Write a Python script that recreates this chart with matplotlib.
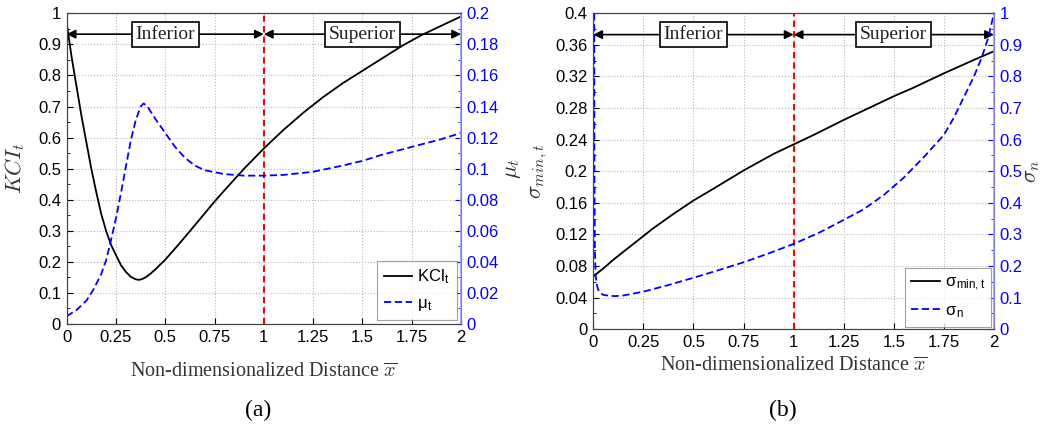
import matplotlib
matplotlib.use('Agg')
import matplotlib.pyplot as plt
from matplotlib.ticker import MultipleLocator, AutoMinorLocator

plt.rcParams['font.family'] = ['Liberation Sans', 'DejaVu Sans']
plt.rcParams['mathtext.fontset'] = 'cm'

# ---- data, panel (a)
x_kci = [0, 0.025, 0.05, 0.075, 0.1, 0.125, 0.15, 0.175, 0.2, 0.225, 0.25, 0.275,
         0.3, 0.325, 0.35, 0.365, 0.38, 0.4, 0.425, 0.45, 0.5, 0.55, 0.6, 0.65, 0.7,
         0.75, 0.8, 0.9, 1.0, 1.1, 1.2, 1.3, 1.4, 1.5, 1.6, 1.7, 1.8, 1.9, 2.0]
kci_t = [0.97, 0.86, 0.765, 0.67, 0.585, 0.5, 0.425, 0.355, 0.30, 0.255, 0.222, 0.19,
         0.168, 0.152, 0.144, 0.142, 0.144, 0.15, 0.162, 0.176, 0.207, 0.243, 0.28, 0.318, 0.356,
         0.394, 0.43, 0.50, 0.565, 0.625, 0.68, 0.73, 0.775, 0.815, 0.855, 0.895, 0.93, 0.96, 0.99]

x_mu = [0, 0.05, 0.1, 0.135, 0.175, 0.2, 0.225, 0.25, 0.275, 0.3, 0.325, 0.35, 0.375,
        0.39, 0.41, 0.45, 0.5, 0.55, 0.6, 0.65, 0.7, 0.8, 0.9, 1.0, 1.1, 1.25, 1.4, 1.5,
        1.6, 1.75, 1.9, 2.0]
mu_t = [0.005, 0.009, 0.015, 0.022, 0.032, 0.041, 0.054, 0.068, 0.084, 0.101, 0.118, 0.131, 0.140,
        0.142, 0.140, 0.132, 0.123, 0.114, 0.107, 0.102, 0.099, 0.0965, 0.0955, 0.0955, 0.096, 0.098, 0.102, 0.105,
        0.109, 0.114, 0.119, 0.123]

# ---- data, panel (b)
x_smin = [0, 0.05, 0.1, 0.2, 0.3, 0.4, 0.5, 0.6, 0.75, 0.9, 1.0, 1.1, 1.25, 1.4, 1.5,
          1.6, 1.75, 1.9, 2.0]
sigma_min = [0.067, 0.077, 0.088, 0.108, 0.128, 0.146, 0.163, 0.178, 0.201, 0.222, 0.234, 0.246,
             0.265, 0.283, 0.295, 0.306, 0.324, 0.341, 0.352]

x_sn = [0.005, 0.006, 0.008, 0.012, 0.018, 0.025, 0.035, 0.05, 0.08, 0.11, 0.15, 0.25,
        0.375, 0.5, 0.625, 0.75, 0.875, 1.0, 1.125, 1.25, 1.35, 1.45, 1.55, 1.65, 1.75,
        1.8, 1.85, 1.9, 1.94, 1.97, 2.0]
sigma_n = [1.0, 0.5, 0.25, 0.17, 0.14, 0.125, 0.115, 0.109, 0.106, 0.105, 0.107, 0.119,
           0.14, 0.163, 0.187, 0.212, 0.24, 0.27, 0.305, 0.346, 0.38, 0.425, 0.48, 0.545, 0.615,
           0.67, 0.735, 0.80, 0.862, 0.92, 1.0]

xticks = [0, 0.25, 0.5, 0.75, 1, 1.25, 1.5, 1.75, 2]
xticklabels = ['0', '0.25', '0.5', '0.75', '1', '1.25', '1.5', '1.75', '2']

fig = plt.figure(figsize=(10.43, 4.40), dpi=100)

axcol = '#444444'
blue = '#0000ff'
serif = ['Liberation Serif', 'DejaVu Serif']


def setup(ax, ax2, ymax, ystep, y2max, y2step):
    ax.set_xlim(0, 2)
    ax.set_ylim(0, ymax)
    ax2.set_ylim(0, y2max)
    ax.set_xticks(xticks)
    ax.set_xticklabels(xticklabels)
    ax.yaxis.set_major_locator(MultipleLocator(ystep))
    ax.yaxis.set_minor_locator(AutoMinorLocator(2))
    ax2.yaxis.set_major_locator(MultipleLocator(y2step))
    ax2.yaxis.set_minor_locator(AutoMinorLocator(2))
    ax.yaxis.set_major_formatter(plt.FuncFormatter(lambda v, p: ('%g' % round(v, 4))))
    ax2.yaxis.set_major_formatter(plt.FuncFormatter(lambda v, p: ('%g' % round(v, 4))))
    ax.grid(True, which='major', linestyle=':', color='#b8b8b8', linewidth=0.8)
    ax.tick_params(direction='in', labelsize=12, colors='black', pad=4, length=4)
    ax.tick_params(which='minor', direction='in', length=2)
    ax2.tick_params(direction='in', labelsize=12, colors=blue, labelcolor=blue, pad=4, length=4)
    ax2.tick_params(which='minor', direction='in', length=2, colors=blue)
    for s in ['left', 'bottom', 'top']:
        ax.spines[s].set_color(axcol)
        ax2.spines[s].set_color(axcol)
    ax2.spines['right'].set_color('#9a9aff')
    ax2.spines['right'].set_linewidth(1.2)


def regions(ax, y):
    ax.axvline(1, color='red', linestyle=(0, (3, 2)), linewidth=1.5, zorder=3)
    for a, b, name in [(0, 1, 'Inferior'), (1, 2, 'Superior')]:
        ax.annotate('', xy=(a, y), xytext=(b, y),
                    arrowprops=dict(arrowstyle='<|-|>', color='black', lw=1.2,
                                    mutation_scale=13, shrinkA=0, shrinkB=0), zorder=4)
        ax.text((a + b) / 2, y, name, ha='center', va='center', fontsize=14,
                family=serif, color='#222222', zorder=5,
                bbox=dict(boxstyle='square,pad=0.2', fc='white', ec='black', lw=1.2))


# ---- panel (a)
ax = fig.add_axes([0.0639, 0.2636, 0.3781, 0.7061])
ax2 = ax.twinx()
setup(ax, ax2, 1, 0.1, 0.2, 0.02)
l1, = ax.plot(x_kci, kci_t, color='black', linewidth=1.3, label='KCl$_\\mathregular{t}$')
l2, = ax2.plot(x_mu, mu_t, color=blue, linestyle=(0, (4, 2)), linewidth=1.3,
               label='μ$_\\mathregular{t}$')
regions(ax, 0.933)
ax.set_ylabel(r'$KCI_t$', fontsize=16, color='#333333', labelpad=8)
ax2.set_ylabel(r'$\mu_t$', fontsize=16, color='#333333', labelpad=2)
ax.set_xlabel(r'Non-dimensionalized Distance $\overline{x}$', fontsize=14.5, family=serif,
              color='#333333', labelpad=13)
leg = ax2.legend(handles=[l1, l2], loc='lower right', fontsize=12, frameon=True, fancybox=False,
                 handlelength=1.7, handletextpad=0.3, borderaxespad=0.25, labelspacing=0.6,
                 borderpad=0.4)
leg.get_frame().set_edgecolor('#888888')
leg.get_frame().set_linewidth(0.8)

# ---- panel (b)
bx = fig.add_axes([0.5688, 0.2516, 0.3842, 0.7182])
bx2 = bx.twinx()
setup(bx, bx2, 0.4, 0.04, 1, 0.1)
m1, = bx.plot(x_smin, sigma_min, color='black', linewidth=1.3, label='σ$_\\mathregular{min,t}$')
m2, = bx2.plot(x_sn, sigma_n, color=blue, linestyle=(0, (4, 2)), linewidth=1.3,
               label='σ$_\\mathregular{n}$')
regions(bx, 0.373)
bx.set_ylabel(r'$\sigma_{min,t}$', fontsize=16, color='#333333', labelpad=4)
bx2.set_ylabel(r'$\sigma_n$', fontsize=16, color='#333333', labelpad=-1)
bx.set_xlabel(r'Non-dimensionalized Distance $\overline{x}$', fontsize=14.5, family=serif,
              color='#333333', labelpad=5)
leg2 = bx2.legend(handles=[m1, m2], loc='lower right', fontsize=12, frameon=True, fancybox=False,
                  handlelength=1.7, handletextpad=0.3, borderaxespad=0.15, labelspacing=0.6,
                  borderpad=0.4)
leg2.get_frame().set_edgecolor('#888888')
leg2.get_frame().set_linewidth(0.8)

fig.text(0.2474, 0.068, '(a)', ha='center', va='center', fontsize=17, family=serif)
fig.text(0.7507, 0.068, '(b)', ha='center', va='center', fontsize=17, family=serif)

fig.savefig('out.png', dpi=100)
